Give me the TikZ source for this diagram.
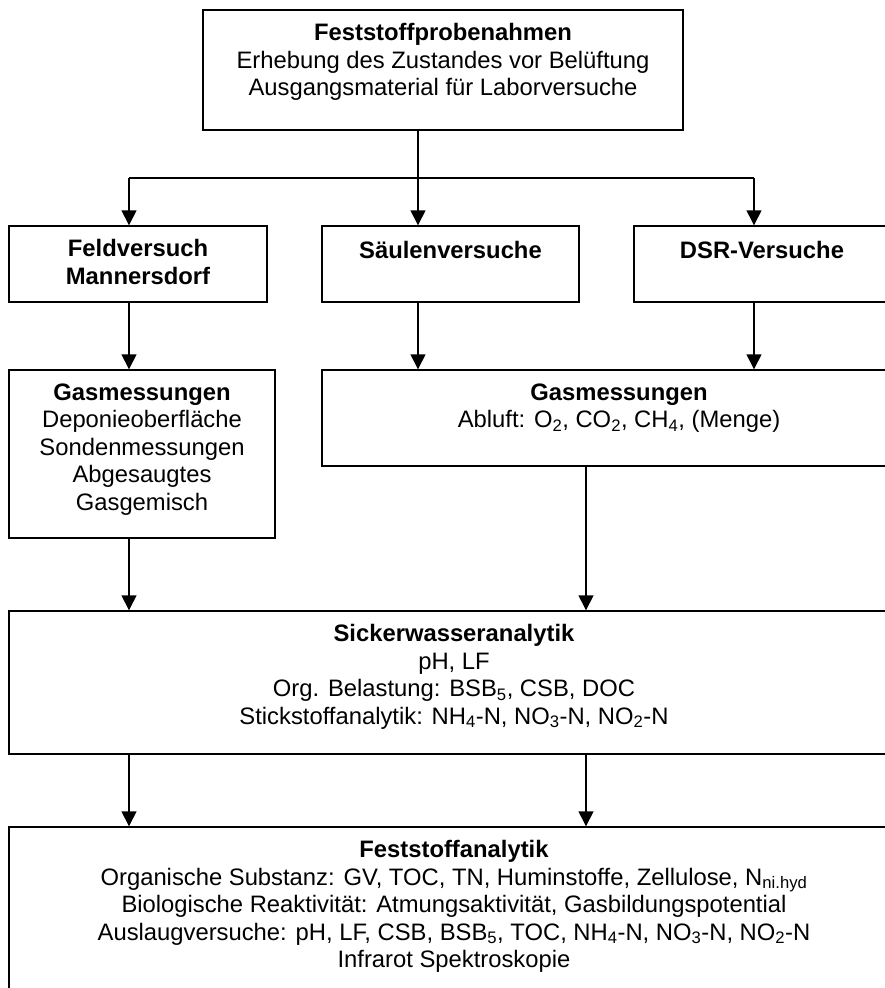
\documentclass[tikz,border=0pt]{standalone}
\usepackage{fontspec}
\setmainfont{Liberation Sans}
\usetikzlibrary{arrows.meta}

\begin{document}
\begin{tikzpicture}[x=1pt,y=-1pt,>={Triangle[length=15pt,width=15pt]},
    kasten/.style={draw,line width=1.4pt,inner sep=0pt},
    inhalt/.style={align=center,inner sep=0pt,anchor=north,yshift=-14pt,
      font=\fontsize{23.8}{27.5}\selectfont,execute at begin node=\strut},
    pfeil/.style={->,line width=1.4pt}]
            \useasboundingbox (0,0) rectangle (885,988);
            \clip (0,0) rectangle (885,988);
            % Kaesten
            \node[kasten,minimum width=480pt,minimum height=120pt] (probe) at (443,70) {};
            \node[kasten,minimum width=258pt,minimum height=76pt] (feld) at (138,264) {};
            \node[kasten,minimum width=257pt,minimum height=76pt] (saeule) at (450.5,264) {};
            \node[kasten,minimum width=256pt,minimum height=76pt] (dsr) at (762,264) {};
            \node[kasten,minimum width=266pt,minimum height=168pt] (gasfeld) at (142,454) {};
            \node[kasten,minimum width=594pt,minimum height=96pt] (gaslabor) at (619,418) {};
            \node[kasten,minimum width=890pt,minimum height=143pt] (sicker) at (454,682.5) {};
            \node[kasten,minimum width=890pt,minimum height=173pt] (fest) at (454,913.5) {};
            % Texte
            \node[inhalt] (probeT) at (probe.north) {\textbf{Feststoffprobenahmen}\\Erhebung des Zustandes vor Belüftung\\Ausgangsmaterial für Laborversuche};
            \node[inhalt] (feldT) at (feld.north) {\textbf{Feldversuch}\\\textbf{Mannersdorf}};
            \node[inhalt] (saeuleT) at (saeule.north) {\textbf{Säulenversuche}};
            \node[inhalt] (dsrT) at (dsr.north) {\textbf{DSR-Versuche}};
            \node[inhalt] (gasfeldT) at (gasfeld.north) {\textbf{Gasmessungen}\\Deponieoberfläche\\Sondenmessungen\\Abgesaugtes\\Gasgemisch};
            \node[inhalt] (gaslaborT) at (gaslabor.north) {\textbf{Gasmessungen}\\Abluft: O\textsubscript{2}, CO\textsubscript{2}, CH\textsubscript{4}, (Menge)};
            \node[inhalt] (sickerT) at (sicker.north) {\textbf{Sickerwasseranalytik}\\pH, LF\\Org. Belastung: BSB\textsubscript{5}, CSB, DOC\\Stickstoffanalytik: NH\textsubscript{4}-N, NO\textsubscript{3}-N, NO\textsubscript{2}-N};
            \node[inhalt] (festT) at (fest.north) {\textbf{Feststoffanalytik}\\Organische Substanz: GV, TOC, TN, Huminstoffe, Zellulose, N\textsubscript{ni.hyd}\\Biologische Reaktivität: Atmungsaktivität, Gasbildungspotential\\Auslaugversuche: pH, LF, CSB, BSB\textsubscript{5}, TOC, NH\textsubscript{4}-N, NO\textsubscript{3}-N, NO\textsubscript{2}-N\\Infrarot Spektroskopie};
            % Verbindungen
            \coordinate (verteilL) at (129,178);
            \coordinate (verteilM) at (418,178);
            \coordinate (verteilR) at (754,178);
            \coordinate (spalteD) at (586,0);
            \draw[line width=1.4pt] (probe.south -| verteilM) -- (verteilM);
            \draw[line width=1.4pt] (verteilL) -- (verteilR);
            \draw[pfeil] (verteilL) -- (feld.north -| verteilL);
            \draw[pfeil] (verteilM) -- (saeule.north -| verteilM);
            \draw[pfeil] (verteilR) -- (dsr.north -| verteilR);
            \draw[pfeil] (feld.south -| verteilL) -- (gasfeld.north -| verteilL);
            \draw[pfeil] (saeule.south -| verteilM) -- (gaslabor.north -| verteilM);
            \draw[pfeil] (dsr.south -| verteilR) -- (gaslabor.north -| verteilR);
            \draw[pfeil] (gasfeld.south -| verteilL) -- (sicker.north -| verteilL);
            \draw[pfeil] (gaslabor.south -| spalteD) -- (sicker.north -| spalteD);
            \draw[pfeil] (sicker.south -| verteilL) -- (fest.north -| verteilL);
            \draw[pfeil] (sicker.south -| spalteD) -- (fest.north -| spalteD);
        \end{tikzpicture}
\end{document}
